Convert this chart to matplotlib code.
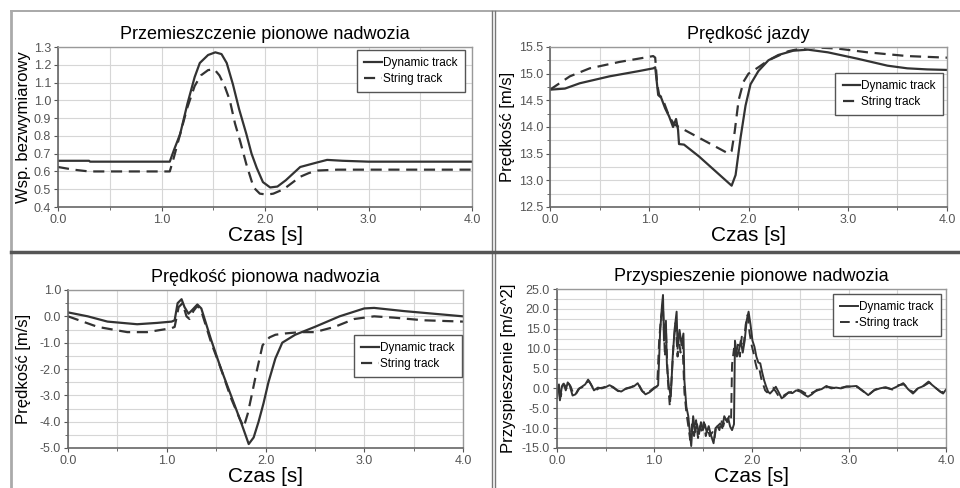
import matplotlib
matplotlib.use("Agg")
import matplotlib.pyplot as plt
from matplotlib.lines import Line2D
from matplotlib.ticker import MultipleLocator, FormatStrFormatter

plt.rcParams['font.family'] = ['Liberation Sans', 'DejaVu Sans']

# --- Przemieszczenie pionowe nadwozia ---
disp_dyn_t = [0, 0.3, 0.31, 1.08, 1.12, 1.18, 1.25, 1.32, 1.37, 1.45, 1.52, 1.58, 1.63, 1.69,
              1.75, 1.82, 1.87, 1.92, 1.98, 2.05, 2.12, 2.2, 2.34, 2.5, 2.6, 2.75, 3.0, 4.0]
disp_dyn = [0.66, 0.66, 0.655, 0.655, 0.72, 0.81, 0.98, 1.13, 1.21, 1.255, 1.27, 1.26, 1.21, 1.09,
            0.95, 0.81, 0.70, 0.62, 0.54, 0.51, 0.515, 0.55, 0.625, 0.65, 0.665, 0.66, 0.655, 0.655]
disp_str_t = [0, 0.15, 0.3, 1.08, 1.12, 1.18, 1.25, 1.32, 1.38, 1.45, 1.51, 1.56, 1.61, 1.66,
              1.71, 1.76, 1.82, 1.89, 1.95, 2.02, 2.08, 2.18, 2.26, 2.34, 2.42, 2.5, 2.7, 4.0]
disp_str = [0.625, 0.61, 0.60, 0.60, 0.68, 0.81, 0.96, 1.08, 1.14, 1.17, 1.175, 1.14, 1.08, 1.0,
            0.87, 0.77, 0.64, 0.51, 0.475, 0.47, 0.475, 0.50, 0.535, 0.57, 0.59, 0.605, 0.61, 0.61]

# --- Prędkość jazdy ---
spd_dyn_t = [0, 0.15, 0.3, 0.6, 0.9, 1.04, 1.06, 1.09, 1.12, 1.16, 1.2, 1.24, 1.27, 1.29, 1.3,
             1.35, 1.5, 1.65, 1.83, 1.87, 1.92, 1.97, 2.02, 2.1, 2.2, 2.3, 2.45, 2.6, 2.8, 3.1,
             3.4, 3.6, 3.8, 4.0]
spd_dyn = [14.7, 14.72, 14.82, 14.95, 15.05, 15.1, 15.12, 14.6, 14.55, 14.35, 14.2, 14.0, 14.15,
           13.95, 13.68, 13.67, 13.45, 13.2, 12.9, 13.1, 13.8, 14.4, 14.8, 15.05, 15.25, 15.35,
           15.43, 15.45, 15.4, 15.28, 15.15, 15.1, 15.08, 15.07]
spd_str_t = [0, 0.2, 0.4, 0.7, 0.95, 1.04, 1.06, 1.08, 1.1, 1.13, 1.17, 1.2, 1.25, 1.3, 1.4, 1.6,
             1.8, 1.83, 1.86, 1.9, 1.95, 2.0, 2.1, 2.2, 2.4, 2.6, 2.9, 3.2, 3.6, 4.0]
spd_str = [14.7, 14.95, 15.1, 15.22, 15.3, 15.33, 15.3, 14.8, 14.6, 14.55, 14.35, 14.2, 14.05,
           14.0, 13.9, 13.7, 13.5, 13.55, 13.9, 14.5, 14.85, 15.0, 15.12, 15.25, 15.42, 15.5,
           15.47, 15.4, 15.33, 15.3]

# --- Prędkość pionowa nadwozia ---
vel_dyn_t = [0, 0.2, 0.4, 0.7, 0.9, 1.05, 1.08, 1.11, 1.15, 1.18, 1.22, 1.26, 1.31, 1.35, 1.45,
             1.55, 1.65, 1.75, 1.83, 1.88, 1.93, 1.98, 2.03, 2.1, 2.17, 2.3, 2.5, 2.75, 3.0, 3.1,
             3.4, 3.7, 4.0]
vel_dyn = [0.15, 0.0, -0.2, -0.3, -0.25, -0.2, -0.15, 0.5, 0.65, 0.35, 0.1, 0.25, 0.45, 0.3, -0.9,
           -2.0, -3.0, -4.0, -4.85, -4.6, -4.0, -3.3, -2.5, -1.6, -1.0, -0.7, -0.4, 0.0, 0.3, 0.32,
           0.2, 0.1, 0.0]
vel_str_t = [0, 0.3, 0.6, 0.8, 1.05, 1.08, 1.12, 1.16, 1.2, 1.23, 1.27, 1.31, 1.35, 1.45, 1.55,
             1.65, 1.74, 1.78, 1.82, 1.86, 1.91, 1.97, 2.04, 2.1, 2.2, 2.35, 2.5, 2.7, 2.9, 3.1,
             3.3, 3.6, 4.0]
vel_str = [0.0, -0.4, -0.6, -0.6, -0.45, -0.4, 0.35, 0.5, 0.0, -0.1, 0.2, 0.4, 0.2, -1.0, -2.0,
           -3.1, -3.9, -4.2, -3.7, -3.0, -2.1, -1.1, -0.8, -0.7, -0.65, -0.6, -0.6, -0.4, -0.1,
           0.0, -0.05, -0.15, -0.2]

# --- Przyspieszenie pionowe nadwozia ---
acc_dyn_t = [0.00, 0.02, 0.03, 0.05, 0.07, 0.09, 0.11, 0.13, 0.16, 0.19, 0.22, 0.26, 0.29, 0.32,
             0.35, 0.38, 0.42, 0.46, 0.50, 0.54, 0.58, 0.62, 0.66, 0.70, 0.75, 0.79, 0.83, 0.87,
             0.91, 0.95, 1.00, 1.04, 1.06, 1.08, 1.09, 1.10, 1.12, 1.13, 1.15, 1.17, 1.19, 1.21,
             1.23, 1.24, 1.26, 1.28, 1.30, 1.31, 1.33, 1.35, 1.37, 1.38, 1.40, 1.42, 1.44, 1.46,
             1.48, 1.50, 1.52, 1.54, 1.56, 1.58, 1.61, 1.63, 1.65, 1.68, 1.70, 1.72, 1.74, 1.76,
             1.78, 1.80, 1.82, 1.83, 1.85, 1.87, 1.89, 1.91, 1.93, 1.95, 1.97, 1.99, 2.01, 2.03,
             2.05, 2.07, 2.09, 2.11, 2.13, 2.15, 2.17, 2.19, 2.22, 2.25, 2.28, 2.31, 2.34, 2.38,
             2.42, 2.46, 2.50, 2.54, 2.58, 2.62, 2.67, 2.72, 2.77, 2.82, 2.87, 2.92, 2.97, 3.02,
             3.08, 3.14, 3.20, 3.26, 3.32, 3.38, 3.44, 3.50, 3.56, 3.61, 3.66, 3.71, 3.76, 3.82,
             3.86, 3.90, 3.94, 3.97, 4.00]
acc_dyn = [-1.0, 1.0, -3.0, 0.5, 1.2, -0.5, 1.5, 0.8, -1.8, -1.5, -0.2, 0.5, 1.0, 2.2,
           1.0, -0.5, 0.2, 0.0, 0.3, 0.8, 0.3, -0.5, -0.8, -0.2, 0.2, 0.5, 1.3, -0.5,
           -1.5, -1.0, 0.0, 0.8, 14.0, 21.0, 23.5, 12.0, 17.0, 6.0, 0.5, -2.0, 8.0, 15.0,
           19.3, 10.0, 14.7, 11.0, 13.8, 2.0, -4.6, -7.0, -12.0, -14.5, -7.0, -11.0, -9.0, -11.5,
           -8.5, -10.5, -9.0, -11.0, -9.5, -11.5, -13.8, -10.0, -9.5, -8.8, -10.0, -7.0, -8.0, -7.5,
           -9.6, -10.5, -9.0, 12.0, 8.0, 9.5, 12.0, 9.0, 12.0, 17.0, 19.3, 16.0, 12.0, 10.5,
           8.0, 6.5, 6.3, 4.0, 2.0, 0.5, -0.8, -1.3, -0.5, 0.4, -1.0, -2.5, -2.0, -1.0,
           -1.2, -0.5, -0.8, -1.5, -2.1, -1.5, -0.4, -0.2, 0.6, 0.0, 0.2, 0.0, 0.4, 0.5,
           0.6, -0.5, -1.7, -0.5, 0.0, 0.3, -0.2, 0.5, 1.3, -0.2, -1.3, 0.0, 0.5, 1.7,
           0.8, 0.0, -0.8, -1.3, -0.3]
acc_str_t = [0.00, 0.02, 0.04, 0.06, 0.08, 0.10, 0.12, 0.14, 0.17, 0.20, 0.23, 0.26, 0.30, 0.33,
             0.36, 0.39, 0.43, 0.47, 0.51, 0.55, 0.59, 0.63, 0.67, 0.71, 0.76, 0.80, 0.84, 0.88,
             0.92, 0.96, 1.00, 1.03, 1.05, 1.07, 1.09, 1.11, 1.12, 1.14, 1.16, 1.18, 1.20, 1.22,
             1.24, 1.25, 1.27, 1.29, 1.31, 1.33, 1.35, 1.37, 1.39, 1.41, 1.43, 1.45, 1.47, 1.49,
             1.51, 1.53, 1.55, 1.57, 1.60, 1.62, 1.64, 1.67, 1.69, 1.71, 1.73, 1.75, 1.77, 1.79,
             1.80, 1.82, 1.84, 1.86, 1.88, 1.90, 1.92, 1.94, 1.96, 1.98, 2.00, 2.02, 2.04, 2.06,
             2.08, 2.10, 2.12, 2.14, 2.16, 2.19, 2.22, 2.25, 2.28, 2.31, 2.35, 2.39, 2.43, 2.47,
             2.51, 2.55, 2.59, 2.63, 2.68, 2.73, 2.78, 2.83, 2.88, 2.93, 2.98, 3.03, 3.09, 3.15,
             3.21, 3.27, 3.33, 3.39, 3.45, 3.51, 3.57, 3.62, 3.67, 3.72, 3.77, 3.83, 3.87, 3.91,
             3.95, 3.98, 4.00]
acc_str = [-2.5, 0.5, -2.0, 1.0, 0.8, -0.3, 1.2, 0.5, -1.5, -1.2, 0.0, 0.3, 1.4, 1.8,
           0.5, -0.6, 0.0, 0.2, 0.5, 0.6, 0.0, -0.7, -0.6, 0.0, 0.3, 0.8, 1.0, -0.8,
           -1.3, -0.6, 0.2, 0.5, 12.0, 18.0, 20.5, 8.0, 15.0, 2.0, -4.5, 3.0, 12.0, 16.5,
           8.0, 13.0, 9.0, 11.5, -1.0, -6.0, -9.5, -13.0, -9.0, -12.0, -8.0, -12.5, -9.5, -11.0,
           -8.5, -12.0, -10.0, -12.0, -11.0, -12.5, -9.0, -10.5, -8.0, -9.5, -7.5, -8.5, -7.0, -8.0,
           6.0, 10.0, 8.5, 11.0, 8.0, 13.0, 11.0, 16.0, 18.5, 14.0, 11.0, 9.0, 6.5, 4.5,
           5.0, 2.5, 1.0, -0.5, -1.0, -0.3, 0.2, -0.8, -2.0, -2.2, -1.5, -1.0, -0.8, -0.3,
           -0.6, -1.2, -1.6, -1.0, -0.5, 0.0, 0.4, 0.2, 0.0, 0.2, 0.5, 0.4, 0.3, -0.8,
           -1.5, -0.3, 0.2, 0.1, -0.3, 0.8, 1.0, -0.4, -1.0, 0.2, 0.6, 1.5, 0.5, -0.2,
           -1.0, -0.8, -0.5]

W, H = 960, 488
fig = plt.figure(figsize=(W / 100, H / 100), dpi=100)
fig.patch.set_facecolor('white')

line_col = '#333333'


def make_ax(left, right, top, bottom):
    return fig.add_axes([left / W, 1 - bottom / H, (right - left) / W, (bottom - top) / H])


def style(ax, title, ylabel, ylim, ymaj, ymin, ylab_x, leg_anchor):
    ax.set_xlim(0, 4)
    ax.set_ylim(*ylim)
    ax.xaxis.set_major_locator(MultipleLocator(1.0))
    ax.xaxis.set_minor_locator(MultipleLocator(0.5))
    ax.yaxis.set_major_locator(MultipleLocator(ymaj))
    ax.yaxis.set_minor_locator(MultipleLocator(ymin))
    ax.xaxis.set_major_formatter(FormatStrFormatter('%.1f'))
    ax.yaxis.set_major_formatter(FormatStrFormatter('%.1f'))
    ax.grid(True, which='both', color='#d6d6d6', lw=0.8)
    ax.set_axisbelow(True)
    ax.tick_params(which='both', labelsize=9, labelcolor='#555555', color='#555555',
                   length=3, pad=2)
    ax.tick_params(which='minor', length=2)
    for s in ['left', 'bottom']:
        ax.spines[s].set_color('#666666')
        ax.spines[s].set_linewidth(1.2)
    for s in ['top', 'right']:
        ax.spines[s].set_color('#999999')
        ax.spines[s].set_linewidth(1.0)
    ax.set_title(title, fontsize=13, pad=6)
    ax.set_xlabel('Czas [s]', fontsize=15, labelpad=0)
    ax.set_ylabel(ylabel, fontsize=12)
    ax.yaxis.set_label_coords(ylab_x, 0.5)
    leg = ax.legend(loc='upper right', bbox_to_anchor=leg_anchor, fontsize=8.5,
                    fancybox=False, edgecolor='#555555', framealpha=1,
                    handlelength=1.5, handletextpad=0.1, labelspacing=0.35,
                    borderpad=0.6, borderaxespad=0)
    leg.get_frame().set_linewidth(1.0)


ax1 = make_ax(58, 472, 47, 207)
ax1.plot(disp_dyn_t, disp_dyn, color=line_col, lw=1.6, label='Dynamic track')
ax1.plot(disp_str_t, disp_str, color=line_col, lw=1.6, dashes=(5, 3), label='String track')
style(ax1, 'Przemieszczenie pionowe nadwozia', 'Wsp. bezwymiarowy', (0.4, 1.3), 0.1, 0.1,
      -0.065, (0.983, 0.98))

ax2 = make_ax(550, 947, 47, 207)
ax2.plot(spd_dyn_t, spd_dyn, color=line_col, lw=1.6, label='Dynamic track')
ax2.plot(spd_str_t, spd_str, color=line_col, lw=1.6, dashes=(5, 3), label='String track')
style(ax2, 'Prędkość jazdy', 'Prędkość [m/s]', (12.5, 15.5), 0.5, 0.25,
      -0.088, (0.99, 0.84))

ax3 = make_ax(68, 463, 290, 448)
ax3.plot(vel_dyn_t, vel_dyn, color=line_col, lw=1.6, label='Dynamic track')
ax3.plot(vel_str_t, vel_str, color=line_col, lw=1.6, dashes=(5, 3), label='String track')
style(ax3, 'Prędkość pionowa nadwozia', 'Prędkość [m/s]', (-5.0, 1.0), 1.0, 0.5,
      -0.094, (0.997, 0.715))

ax4 = make_ax(557, 946, 289, 448)
ax4.plot(acc_dyn_t, acc_dyn, color=line_col, lw=1.4, label='Dynamic track')
ax4.plot(acc_str_t, acc_str, color=line_col, lw=1.4, dashes=(5, 3), label='String track')
style(ax4, 'Przyspieszenie pionowe nadwozia', 'Przyspieszenie [m/s^2]', (-15.0, 25.0), 5.0, 2.5,
      -0.105, (0.987, 0.97))

# panel frames
def fline(x0, y0, x1, y1, **kw):
    fig.add_artist(Line2D([x0 / W, x1 / W], [1 - y0 / H, 1 - y1 / H],
                          transform=fig.transFigure, **kw))

fline(11, 11, 960, 11, color='#9a9a9a', lw=1.2)
fline(11, 11, 11, 488, color='#aaaaaa', lw=2.0)
fline(491.5, 11, 491.5, 488, color='#777777', lw=1.0)
fline(495, 11, 495, 488, color='#777777', lw=1.0)
fline(11, 252, 960, 252, color='#555555', lw=2.5)

fig.savefig('out.png', dpi=100)
